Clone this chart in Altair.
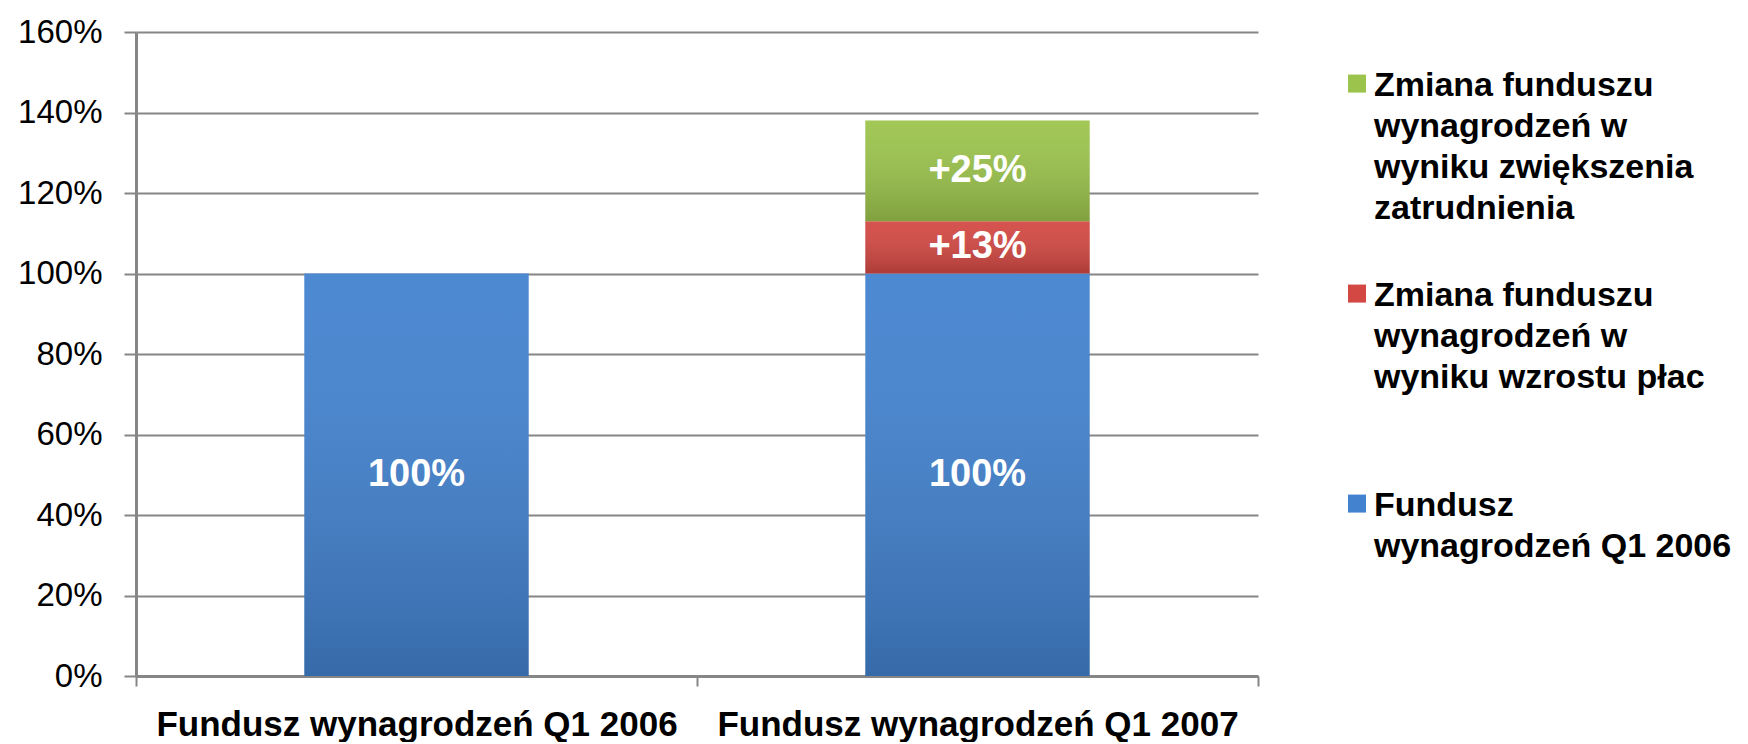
import altair as alt
import pandas as pd

categories = ["Fundusz wynagrodzeń Q1 2006", "Fundusz wynagrodzeń Q1 2007"]

# series (legend text, lines joined with newline)
s_base = "Fundusz\nwynagrodzeń Q1 2006"
s_wage = "Zmiana funduszu\nwynagrodzeń w\nwyniku wzrostu płac"
s_emp = "Zmiana funduszu\nwynagrodzeń w\nwyniku zwiększenia\nzatrudnienia"
series = [s_base, s_wage, s_emp]          # stacking order, bottom to top
legend_order = [s_emp, s_wage, s_base]    # legend order, top to bottom
legend_colors = ["#9cc44c", "#d34843", "#4282cf"]

base_values = [100, 100]
wage_values = [0, 13]
emp_values = [0, 25]
base_labels = ["100%", "100%"]
wage_labels = ["", "+13%"]
emp_labels = ["", "+25%"]

y_ticks = [0, 20, 40, 60, 80, 100, 120, 140, 160]

rows = []
for s, vals, labs in [(s_base, base_values, base_labels),
                      (s_wage, wage_values, wage_labels),
                      (s_emp, emp_values, emp_labels)]:
    for c, v, l in zip(categories, vals, labs):
        if v > 0:
            rows.append({"cat": c, "series": s, "order": series.index(s),
                         "value": v, "label": l})
df = pd.DataFrame(rows)

FONT = "Liberation Sans"
GRID = "#868686"

base = alt.Chart(df).transform_stack(
    stack="value", groupby=["cat"], as_=["y0", "y1"],
    sort=[alt.SortField("order", order="ascending")]
).transform_calculate(mid="(datum.y0 + datum.y1) / 2")

x_enc = alt.X("cat:N", sort=categories, title=None,
              scale=alt.Scale(paddingInner=0, paddingOuter=0),
              axis=alt.Axis(tickBand="extent", labelFont=FONT, labelFontSize=35,
                            labelFontWeight="bold", labelColor="black",
                            labelPadding=21, tickSize=10, tickWidth=2,
                            tickColor=GRID, domainColor=GRID, domainWidth=3,
                            labelAngle=0, grid=False, gridOpacity=0,
                            labelLimit=1000))
y_scale = alt.Scale(domain=[0, 160], nice=False)

BAR_W = alt.RelativeBandSize(band=0.4)

bars = base.mark_bar(stroke=None, width=BAR_W).encode(
    x=x_enc,
    y=alt.Y("y0:Q", scale=y_scale, title=None,
            axis=alt.Axis(values=y_ticks, labelExpr="datum.value + '%'",
                          labelFont=FONT, labelFontSize=33, labelColor="black",
                          labelPadding=22, tickSize=12, tickWidth=2, tickColor=GRID,
                          gridColor=GRID, gridWidth=2, gridOpacity=1,
                          domainColor=GRID, domainWidth=3)),
    y2="y1:Q",
    color=alt.Color("series:N",
                    scale=alt.Scale(domain=legend_order, range=legend_colors),
                    legend=alt.Legend(
                        title=None, orient="none", legendX=1204, legendY=20,
                        labelExpr="split(datum.label, '\\n')",
                        labelFont=FONT, labelFontSize=34, labelFontWeight="bold",
                        labelColor="black", labelLimit=1000, labelOffset=0,
                        labelBaseline="top",
                        symbolType="M-1,0.62H1V2.62H-1Z", symbolSize=324,
                        symbolStrokeWidth=0, symbolOpacity=1,
                        gridAlign="all", rowPadding=36, padding=0)),
)

shade = base.mark_bar(
    width=BAR_W,
    color=alt.Gradient(gradient="linear",
                       stops=[alt.GradientStop(color="rgba(255,255,255,0.06)", offset=0),
                              alt.GradientStop(color="rgba(0,0,0,0.18)", offset=1)],
                       x1=0, x2=0, y1=0, y2=1)
).encode(x=alt.X("cat:N", sort=categories), y=alt.Y("y0:Q", scale=y_scale), y2="y1:Q")

texts = base.mark_text(font=FONT, fontSize=38, fontWeight="bold", color="white",
                       baseline="middle").encode(
    x=alt.X("cat:N", sort=categories),
    y=alt.Y("mid:Q", scale=y_scale),
    text="label:N",
)

chart = alt.layer(bars, shade, texts).properties(
    width=1122, height=644,
    autosize=alt.AutoSizeParams(type="none"),
    padding={"left": 128, "top": 24, "right": 480, "bottom": 66},
).configure(
    style={"guide-label": {"lineHeight": 41}}
).configure_view(stroke=None)

chart.save("out.html", embed_options={"renderer": "svg", "actions": False})
